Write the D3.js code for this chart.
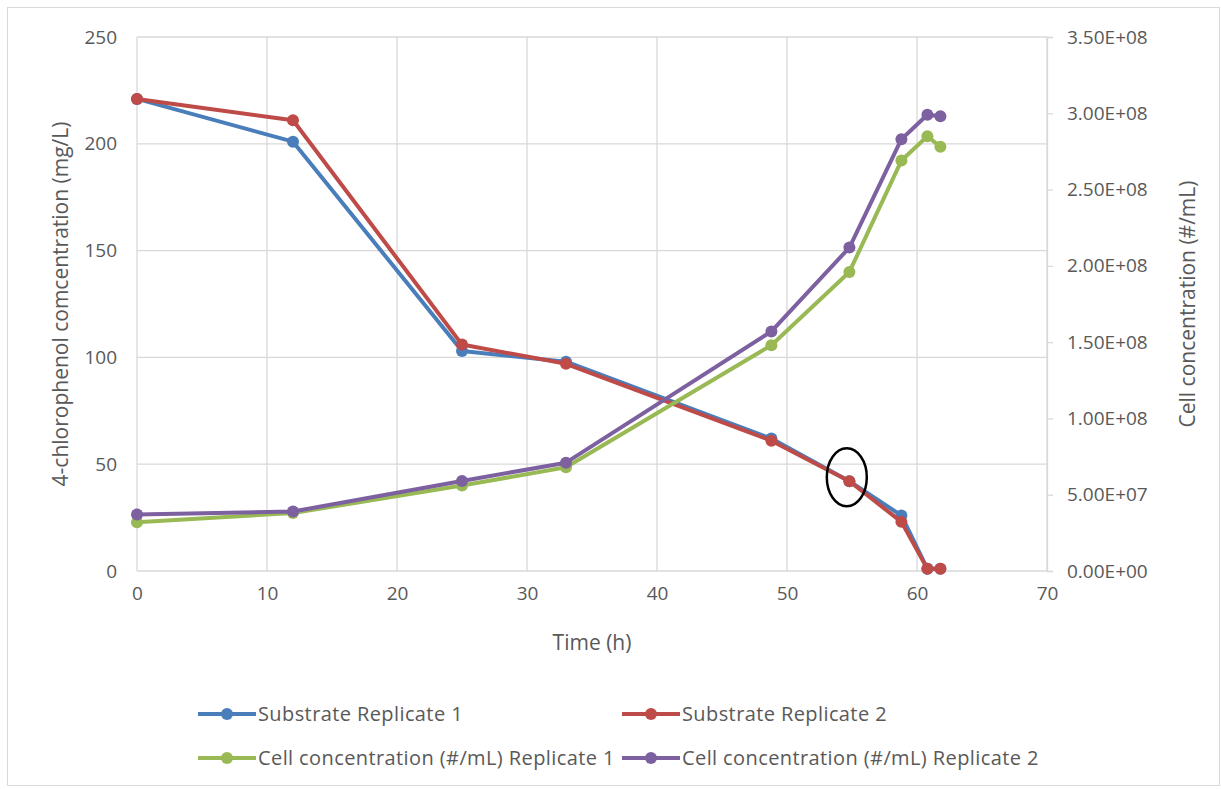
<!DOCTYPE html>
<html>
<head>
<meta charset="utf-8">
<script src="https://cdn.jsdelivr.net/npm/d3@7"></script>
<style>
  body { margin: 0; background: #fff; }
  text { font-family: "Open Sans", "Liberation Sans", sans-serif; fill: #595959; }
</style>
</head>
<body>
<svg id="chart" width="1221" height="789"></svg>
<script>
var times = [0, 12, 25, 33, 48.8, 54.8, 58.8, 60.8, 61.8];
var substrate1 = [221, 201, 103, 98, 62, 42, 26, 1, 1];
var substrate2 = [221, 211, 106, 97, 61, 42, 23, 1, 1];
var cells1 = [3.2e7, 3.8e7, 5.6e7, 6.8e7, 1.48e8, 1.96e8, 2.69e8, 2.85e8, 2.78e8];
var cells2 = [3.7e7, 3.9e7, 5.9e7, 7.1e7, 1.57e8, 2.12e8, 2.83e8, 2.99e8, 2.98e8];
var xTicks = [0, 10, 20, 30, 40, 50, 60, 70];
var leftTicks = [0, 50, 100, 150, 200, 250];
var rightTicks = [0, 5e7, 1e8, 1.5e8, 2e8, 2.5e8, 3e8, 3.5e8];

var svg = d3.select("#chart");
var plotL = 137, plotR = 1047, plotT = 37, plotB = 571;

var x = d3.scaleLinear().domain([0, 70]).range([plotL, plotR]);
var yL = d3.scaleLinear().domain([0, 250]).range([plotB, plotT]);
var yR = d3.scaleLinear().domain([0, 3.5e8]).range([plotB, plotT]);

// outer frame
svg.append("rect").attr("x", 7.5).attr("y", 7.5).attr("width", 1212).attr("height", 778)
    .attr("fill", "none").attr("stroke", "#d9d9d9");

// gridlines
var grid = svg.append("g").attr("stroke", "#d9d9d9").attr("stroke-width", 1.3);
xTicks.forEach(function (t) {
    grid.append("line").attr("x1", x(t)).attr("x2", x(t)).attr("y1", plotT).attr("y2", plotB);
});
leftTicks.forEach(function (t) {
    grid.append("line").attr("x1", plotL).attr("x2", plotR).attr("y1", yL(t)).attr("y2", yL(t));
});

// axes
var fmtE = function (d) {
    var s = d.toExponential(2).toUpperCase();
    return s.replace(/E([+-])(\d)$/, "E$10$2");
};
var gx = svg.append("g").attr("transform", "translate(0," + plotB + ")")
    .call(d3.axisBottom(x).tickValues(xTicks).tickSize(0).tickPadding(16));
var gl = svg.append("g").attr("transform", "translate(" + plotL + ",0)")
    .call(d3.axisLeft(yL).tickValues(leftTicks).tickSize(0).tickPadding(20));
var gr = svg.append("g").attr("transform", "translate(" + plotR + ",0)")
    .call(d3.axisRight(yR).tickValues(rightTicks).tickSize(6).tickPadding(14).tickFormat(fmtE));
[gx, gl, gr].forEach(function (g) {
    g.select(".domain").attr("stroke", "#d9d9d9").attr("stroke-width", 1.3);
    g.selectAll(".tick line").attr("stroke", "#d9d9d9").attr("stroke-width", 1.3);
    g.selectAll("text").attr("font-size", 19).attr("fill", "#595959")
        .style("font-family", "'Open Sans', sans-serif");
});
gx.select(".domain").remove();
gl.select(".domain").remove();

// axis titles
svg.append("text").attr("x", 592).attr("y", 650).attr("text-anchor", "middle")
    .attr("font-size", 21).text("Time (h)");
svg.append("text").attr("transform", "translate(68," + (plotB + plotT) / 2 + ") rotate(-90)")
    .attr("text-anchor", "middle").attr("font-size", 21).text("4-chlorophenol comcentration (mg/L)");
svg.append("text").attr("transform", "translate(1195," + (plotB + plotT) / 2 + ") rotate(-90)")
    .attr("text-anchor", "middle").attr("font-size", 21).text("Cell concentration (#/mL)");

// series
var series = [
    { name: "Substrate Replicate 1", values: substrate1, y: yL, color: "#4a7ebb" },
    { name: "Substrate Replicate 2", values: substrate2, y: yL, color: "#be4b48" },
    { name: "Cell concentration (#/mL) Replicate 1", values: cells1, y: yR, color: "#98b954" },
    { name: "Cell concentration (#/mL) Replicate 2", values: cells2, y: yR, color: "#7d60a0" }
];

series.forEach(function (s) {
    var line = d3.line()
        .x(function (d, i) { return x(times[i]); })
        .y(function (d) { return s.y(d); });
    var g = svg.append("g");
    g.append("path").datum(s.values).attr("d", line)
        .attr("fill", "none").attr("stroke", s.color).attr("stroke-width", 4)
        .attr("stroke-linejoin", "round");
    g.selectAll("circle").data(s.values).enter().append("circle")
        .attr("cx", function (d, i) { return x(times[i]); })
        .attr("cy", function (d) { return s.y(d); })
        .attr("r", 6).attr("fill", s.color);
});

// annotation ellipse
svg.append("ellipse").attr("cx", x(54.6)).attr("cy", yL(42) - 4).attr("rx", 20).attr("ry", 29)
    .attr("fill", "none").attr("stroke", "#000").attr("stroke-width", 2.5);

// legend
var legendPos = [[198, 714], [622, 714], [198, 758], [622, 758]];
series.forEach(function (s, i) {
    var p = legendPos[i];
    var g = svg.append("g").attr("transform", "translate(" + p[0] + "," + p[1] + ")");
    g.append("line").attr("x1", 0).attr("x2", 58).attr("y1", 0).attr("y2", 0)
        .attr("stroke", s.color).attr("stroke-width", 4);
    g.append("circle").attr("cx", 29).attr("cy", 0).attr("r", 6).attr("fill", s.color);
    g.append("text").attr("x", 60).attr("y", 7).attr("font-size", 20)
        .attr("letter-spacing", 0.4).text(s.name);
});
</script>
</body>
</html>
